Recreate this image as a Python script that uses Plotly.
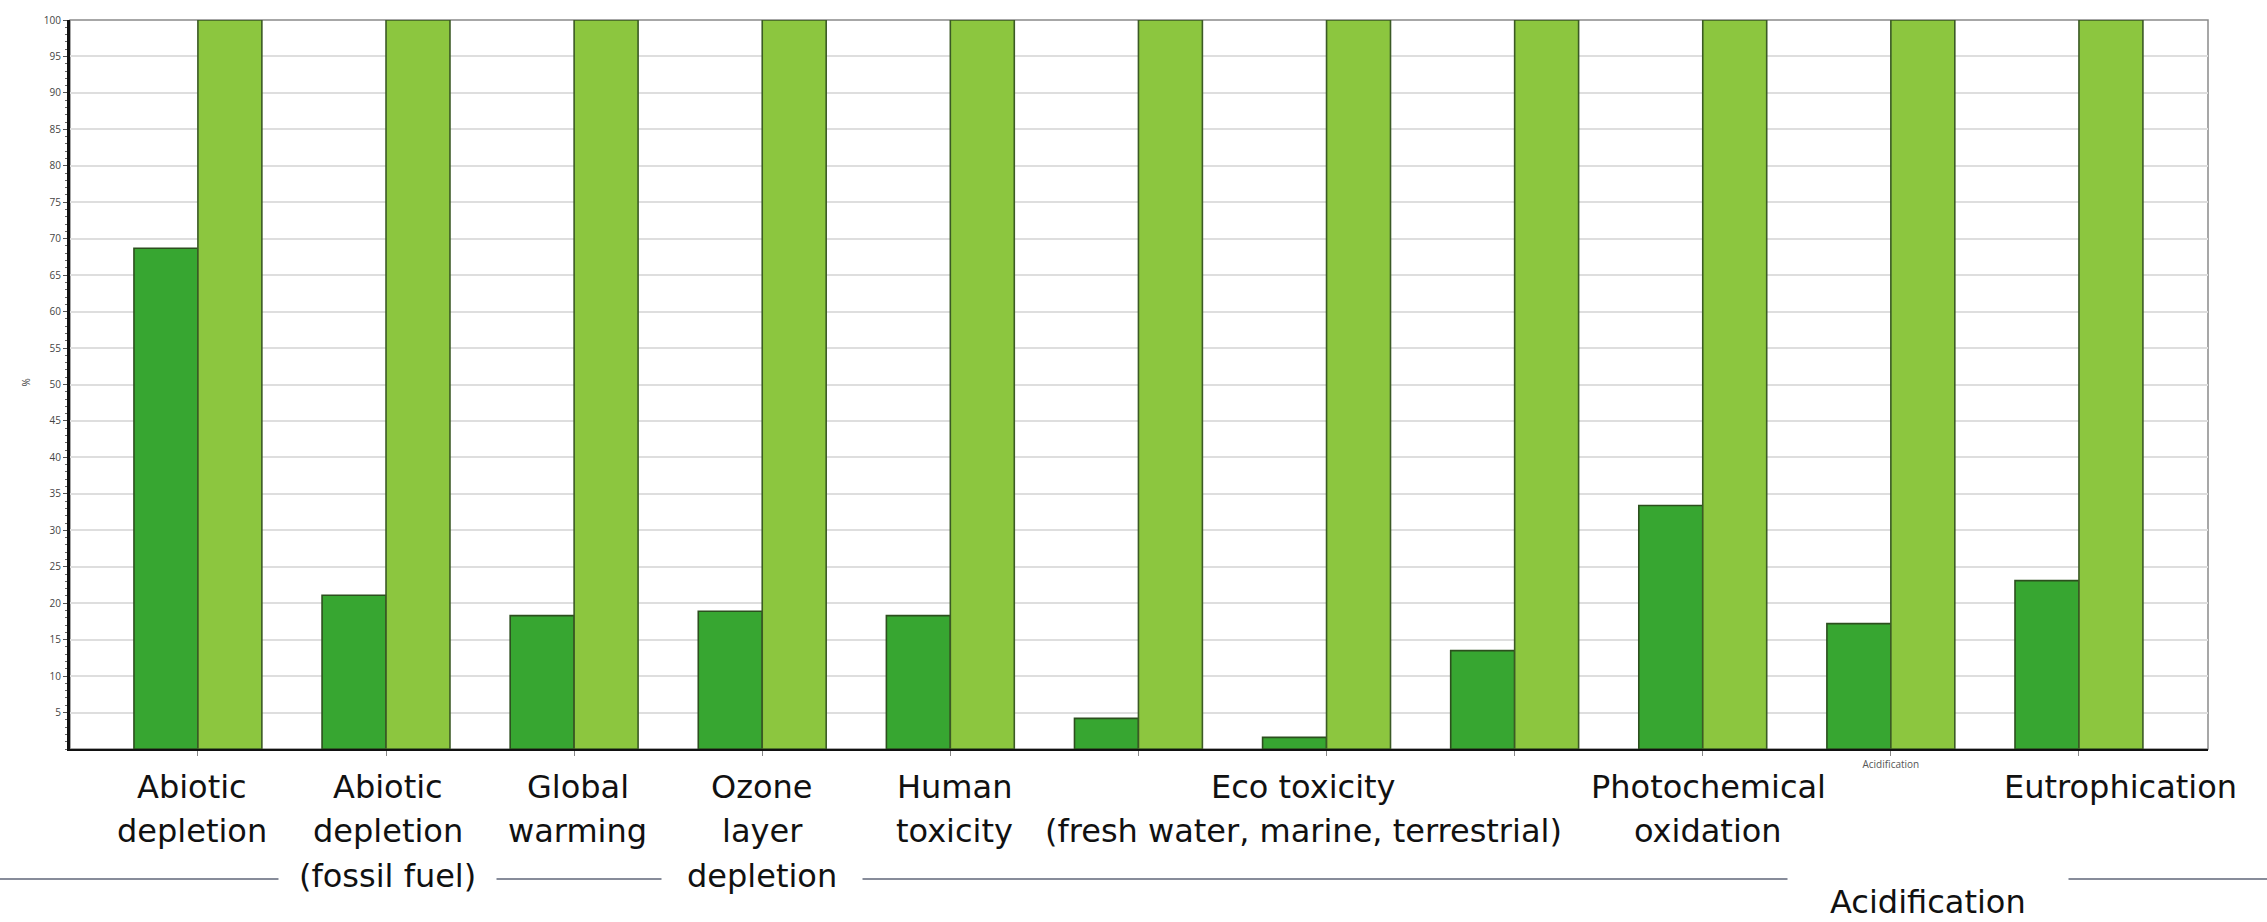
import plotly.graph_objects as go

# ---------------- data ----------------
categories = [
    "Abiotic depletion",
    "Abiotic depletion (fossil fuel)",
    "Global warming",
    "Ozone layer depletion",
    "Human toxicity",
    "Fresh water aquatic ecotoxicity",
    "Marine aquatic ecotoxicity",
    "Terrestrial ecotoxicity",
    "Photochemical oxidation",
    "Acidification",
    "Eutrophication",
]
series_dark = [68.7, 21.1, 18.3, 18.9, 18.3, 4.2, 1.6, 13.5, 33.4, 17.2, 23.1]
series_light = [100, 100, 100, 100, 100, 100, 100, 100, 100, 100, 100]
tick_labels = ["", "", "", "", "", "", "", "", "", "Acidification", ""]
y_tick_values = [5, 10, 15, 20, 25, 30, 35, 40, 45, 50, 55, 60, 65, 70, 75, 80, 85, 90, 95, 100]

group_labels = [
    ["Abiotic", "depletion"],
    ["Abiotic", "depletion", "(fossil fuel)"],
    ["Global", "warming"],
    ["Ozone", "layer", "depletion"],
    ["Human", "toxicity"],
    ["Eco toxicity", "(fresh water, marine, terrestrial)"],
    ["Photochemical", "oxidation"],
    ["Acidification"],
    ["Eutrophication"],
]

# ---------------- layout helpers ----------------
W, H = 2267, 922
ML, MR, MT, MB = 70, 59, 15, 173
PW = W - ML - MR
PH = H - MT - MB

def py(pixel_y):
    """convert a page pixel y into paper y"""
    return (H - MB - pixel_y) / PH

def px(pixel_x):
    return (pixel_x - ML) / PW

# label placement (category-index x, first-line pixel y, gap padding per line)
group_x = [-0.03, 1.01, 2.02, 3.0, 4.02, 5.88, 8.03, 9.2, 10.22]
group_first_y = [787, 787, 787, 787, 787, 787, 787, 903, 787]
line_step = 45
rule_y = 880
label_font = dict(family="DejaVu Sans, Open Sans, sans-serif", size=32, color="#111111")
gap_pad = {(1, 2): 20, (3, 2): 25, (7, 0): 42}

fig = go.Figure()
fig.add_trace(go.Bar(
    x=categories, y=series_dark, name="dark",
    marker=dict(color="#37a631", line=dict(color="#2c4f1e", width=1.6)),
))
fig.add_trace(go.Bar(
    x=categories, y=series_light, name="light",
    marker=dict(color="#8cc63f", line=dict(color="#3b5a25", width=1.6)),
))

annotations = []
ordered = []
for gi, lines in enumerate(group_labels):
    for li, txt in enumerate(lines):
        ordered.append((0 if (gi, li) in gap_pad else 1, gi, li, txt))
ordered.sort(key=lambda t: t[0])
for _, gi, li, txt in ordered:
    pad = gap_pad.get((gi, li))
    ann = dict(
        x=group_x[gi], xref="x",
        y=py(group_first_y[gi] + li * line_step), yref="paper",
        text=txt, showarrow=False, xanchor="center", yanchor="middle",
        font=label_font,
    )
    if pad is not None:
        ann.update(bgcolor="white", borderpad=pad)
    annotations.append(ann)

annotations.append(dict(
    x=px(17), xref="paper", y=py(380), yref="paper", text="%",
    showarrow=False, textangle=-90, font=dict(family="Open Sans, sans-serif", size=10, color="#444444"),
))

fig.update_layout(
    width=W, height=H,
    margin=dict(l=ML, r=MR, t=MT, b=MB, pad=0),
    paper_bgcolor="white", plot_bgcolor="white",
    barmode="group", bargap=0.32, bargroupgap=0,
    showlegend=False,
    annotations=annotations,
    shapes=[
        dict(type="rect", xref="paper", yref="paper", x0=0, x1=1, y0=0, y1=1,
             line=dict(color="#8a8a8a", width=1.5), layer="below"),
        dict(type="line", xref="paper", yref="paper", x0=px(0), x1=px(W), y0=py(rule_y), y1=py(rule_y),
             line=dict(color="#5f6678", width=1.5), layer="below"),
    ],
    xaxis=dict(
        type="category", range=[-0.68, 10.686],
        tickvals=categories, ticktext=tick_labels,
        tickfont=dict(family="Open Sans, sans-serif", size=10, color="#555555"),
        ticks="outside", ticklen=5, tickcolor="#888888",
        showline=True, linecolor="#111111", linewidth=2,
        showgrid=False, zeroline=False,
    ),
    yaxis=dict(
        range=[0, 100], tickvals=y_tick_values,
        tickfont=dict(family="Open Sans, sans-serif", size=10, color="#444444"),
        ticks="outside", ticklen=4, tickcolor="#555555",
        minor=dict(dtick=1, ticks="outside", ticklen=2, tickcolor="#666666", showgrid=False),
        showline=True, linecolor="#111111", linewidth=3,
        showgrid=True, gridcolor="#dedede", gridwidth=2,
        zeroline=False,
    ),
)

fig.write_html("out.html", config={"displayModeBar": False},
               post_script="document.body.style.margin='0px';")
